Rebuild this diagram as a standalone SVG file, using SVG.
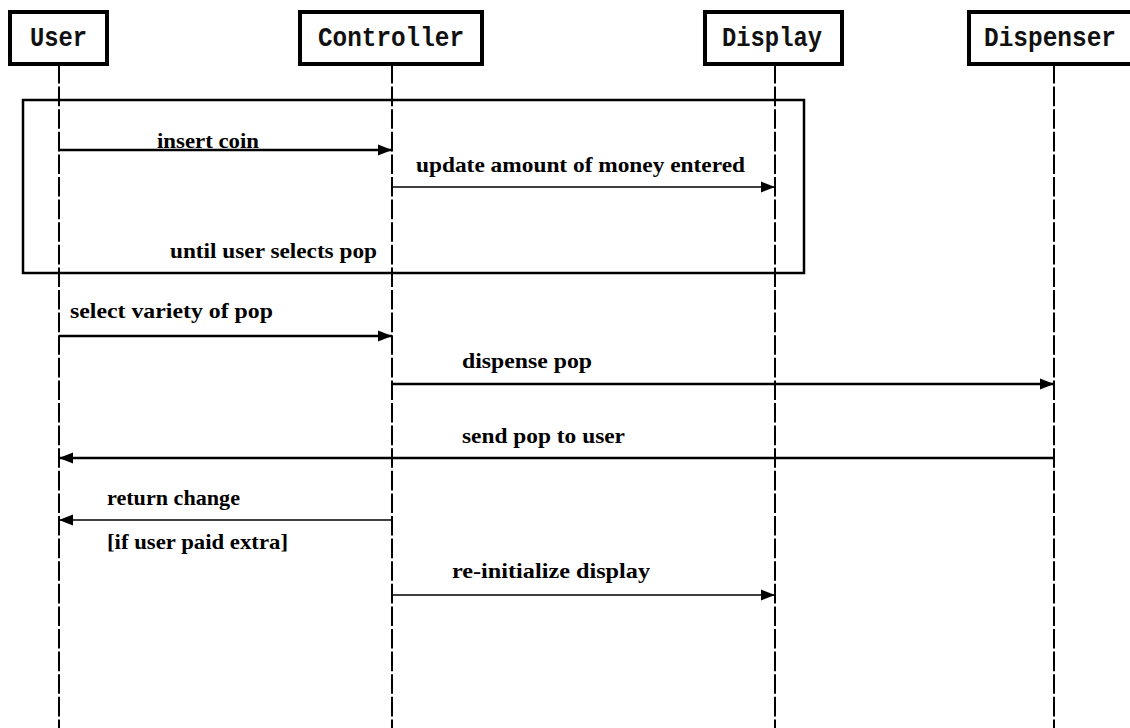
<svg xmlns="http://www.w3.org/2000/svg" width="1130" height="728" viewBox="0 0 1130 728">
  <style>
    .box { fill: #fff; stroke: #000; stroke-width: 4; }
    .hdr { font-family: "Liberation Mono", "DejaVu Sans Mono", monospace; font-weight: bold; font-size: 27px; fill: #111; }
    .life { stroke: #000; stroke-width: 2; stroke-dasharray: 19.6 3; fill: none; }
    .lbl { font-family: "Liberation Serif", "Times New Roman", serif; font-weight: bold; font-size: 22px; fill: #000; }
    .thick { stroke: #000; stroke-width: 2.6; fill: none; }
    .thin { stroke: #000; stroke-width: 1.6; fill: none; }
    .frame { fill: none; stroke: #000; stroke-width: 2.5; }
  </style>
  <defs>
    <marker id="ah" markerUnits="userSpaceOnUse" markerWidth="15" markerHeight="12" refX="14" refY="6" orient="auto">
      <path d="M0,0.5 L14,6 L0,11.5 z" fill="#000"/>
    </marker>
  </defs>
  <rect width="1130" height="728" fill="#fff"/>

  <g id="frame-loop">
    <rect class="frame" x="23" y="100" width="781" height="173"/>
    <text class="lbl" x="170" y="258" textLength="207" lengthAdjust="spacingAndGlyphs">until user selects pop</text>
  </g>

  <g id="node-user">
    <line class="life" x1="59" y1="64" x2="59" y2="728"/>
    <rect class="box" x="10" y="12" width="97" height="52"/>
    <text class="hdr" x="58.5" y="46" text-anchor="middle" textLength="57" lengthAdjust="spacingAndGlyphs">User</text>
  </g>
  <g id="node-controller">
    <line class="life" x1="392" y1="64" x2="392" y2="728"/>
    <rect class="box" x="300" y="12" width="182" height="52"/>
    <text class="hdr" x="391" y="46" text-anchor="middle" textLength="146" lengthAdjust="spacingAndGlyphs">Controller</text>
  </g>
  <g id="node-display">
    <line class="life" x1="775" y1="64" x2="775" y2="728"/>
    <rect class="box" x="705" y="12" width="137" height="52"/>
    <text class="hdr" x="772" y="46" text-anchor="middle" textLength="100" lengthAdjust="spacingAndGlyphs">Display</text>
  </g>
  <g id="node-dispenser">
    <line class="life" x1="1054" y1="64" x2="1054" y2="728"/>
    <rect class="box" x="969" y="12" width="166" height="52"/>
    <text class="hdr" x="1050" y="46" text-anchor="middle" textLength="132" lengthAdjust="spacingAndGlyphs">Dispenser</text>
  </g>

  <g id="connectors">
    <line class="thick" x1="59" y1="150" x2="392" y2="150" marker-end="url(#ah)"/>
    <line class="thin" x1="392" y1="187" x2="775" y2="187" marker-end="url(#ah)"/>
    <line class="thick" x1="59" y1="336" x2="392" y2="336" marker-end="url(#ah)"/>
    <line class="thick" x1="392" y1="384" x2="1054" y2="384" marker-end="url(#ah)"/>
    <line class="thick" x1="1054" y1="458" x2="59" y2="458" marker-end="url(#ah)"/>
    <line class="thin" x1="392" y1="520" x2="59" y2="520" marker-end="url(#ah)"/>
    <line class="thin" x1="392" y1="595" x2="775" y2="595" marker-end="url(#ah)"/>
  </g>

  <g id="labels">
    <text class="lbl" x="157" y="148" textLength="102" lengthAdjust="spacingAndGlyphs">insert coin</text>
    <text class="lbl" x="416" y="172" textLength="329" lengthAdjust="spacingAndGlyphs">update amount of money entered</text>
    <text class="lbl" x="70" y="318" textLength="203" lengthAdjust="spacingAndGlyphs">select variety of pop</text>
    <text class="lbl" x="462" y="368" textLength="130" lengthAdjust="spacingAndGlyphs">dispense pop</text>
    <text class="lbl" x="462" y="443" textLength="163" lengthAdjust="spacingAndGlyphs">send pop to user</text>
    <text class="lbl" x="107" y="505" textLength="133" lengthAdjust="spacingAndGlyphs">return change</text>
    <text class="lbl" x="107" y="549" textLength="181" lengthAdjust="spacingAndGlyphs">[if user paid extra]</text>
    <text class="lbl" x="452" y="578" textLength="198" lengthAdjust="spacingAndGlyphs">re-initialize display</text>
  </g>
</svg>
